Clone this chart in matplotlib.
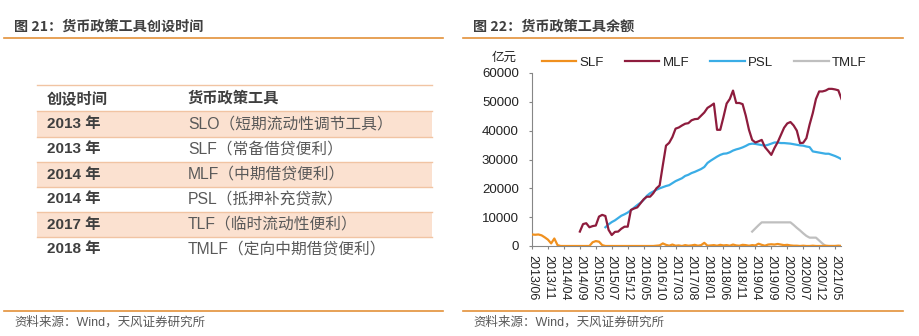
import matplotlib
matplotlib.use("Agg")
import matplotlib.pyplot as plt
from matplotlib.patches import Rectangle
from matplotlib.lines import Line2D
import numpy as np

plt.rcParams['font.family'] = ['Liberation Sans', 'Noto Sans CJK SC', 'DejaVu Sans']

# ---------------- data ----------------
table_years = ["2013 年", "2013 年", "2014 年", "2014 年", "2017 年", "2018 年"]
table_tools = ["SLO（短期流动性调节工具）", "SLF（常备借贷便利）", "MLF（中期借贷便利）",
               "PSL（抵押补充贷款）", "TLF（临时流动性便利）", "TMLF（定向中期借贷便利）"]
table_header = ["创设时间", "货币政策工具"]

start_year, start_month = 2013, 6
n_months = 98  # 2013/06 .. 2021/07

slf_start = 0
slf = [4000, 3900, 4000, 3700, 3000, 2200, 900, 2600, 300, 0,
       0, 0, 0, 0, 0, 0, 0, 0, 0, 1300,
       1700, 1500, 300, 0, 0, 0, 0, 0, 0, 0,
       0, 0, 0, 0, 0, 0, 0, 0, 0, 100,
       200, 900, 400, 100, 500, 100, 200, 0, 300, 100,
       200, 400, 100, 300, 1100, 100, 200, 300, 100, 400,
       200, 300, 100, 500, 200, 100, 400, 300, 100, 300,
       200, 800, 400, 100, 500, 600, 500, 700, 500, 300,
       400, 200, 100, 100, 0, 100, 0, 0, 100, 0,
       0, 0, 100, 0, 0, 0, 100, 0]

mlf_start = 15
mlf = [5000, 7600, 7900, 6500, 6900, 7100, 10200, 10800, 10400, 5600,
       3800, 4900, 5000, 6000, 6700, 6700, 12500, 13000, 13400, 14800,
       16200, 17100, 17100, 18300, 20000, 21000, 28000, 34800, 35800, 37800,
       40700, 41100, 41800, 42400, 42600, 43600, 44000, 44100, 45200, 46300,
       47900, 48600, 49400, 40300, 40300, 44700, 49400, 51000, 53900, 49600,
       49600, 49200, 45200, 40300, 36800, 35900, 36300, 36800, 34300, 33000,
       31600, 34000, 36000, 38500, 41000, 42500, 43000, 41800, 40000, 35700,
       35800, 37400, 42100, 46100, 51000, 53600, 53600, 53900, 54500, 54500,
       54300, 54000, 51000]

psl_start = 23
psl = [6500, 7500, 8300, 8900, 9700, 10500, 11000, 11600, 12400, 13300,
       14200, 15000, 16000, 17400, 18300, 18900, 19500, 20000, 20400, 20800,
       21100, 21800, 22500, 23000, 23500, 24300, 24700, 25300, 25700, 26200,
       26700, 27400, 28800, 29600, 30300, 31000, 31600, 32000, 32100, 32500,
       33100, 33500, 33800, 34200, 34700, 35300, 35500, 35400, 35200, 35000,
       34800, 35100, 35500, 35900, 35900, 35700, 35700, 35600, 35500, 35300,
       35100, 34900, 34800, 34500, 34300, 32800, 32600, 32400, 32200, 32000,
       32000, 31600, 31200, 30700, 30100]

tmlf_start = 69
tmlf = [5000, 6100, 7200, 8200, 8200, 8200, 8200, 8200, 8200, 8200,
        8200, 8200, 8200, 7300, 6300, 5400, 4400, 3500, 2900, 2900,
        2900, 1900, 900, 0, 0, 0, 0, 0, 0]

tick_step = 5
y_ticks = [0, 10000, 20000, 30000, 40000, 50000, 60000]

# ---------------- figure ----------------
W, H = 920, 336
fig = plt.figure(figsize=(W / 100, H / 100), dpi=100)

def fx(px):
    return px / W

def fy(py):
    return 1 - py / H

ORANGE = '#E3913A'
DARK = '#3F3F3F'
GRAY_TXT = '#595959'
CJK = ['Noto Sans CJK SC', 'DejaVu Sans']
MIX = ['Liberation Sans', 'Noto Sans CJK SC', 'DejaVu Sans']

# Titles and rules
fig.text(fx(14), fy(27), "图 21：货币政策工具创设时间", fontsize=10.2, fontweight='bold',
         color=DARK, family=CJK, va='center', ha='left')
fig.text(fx(473), fy(27), "图 22：货币政策工具余额", fontsize=10.2, fontweight='bold',
         color=DARK, family=CJK, va='center', ha='left')
for x0, x1 in [(4, 443), (463, 903)]:
    fig.add_artist(Line2D([fx(x0), fx(x1)], [fy(38), fy(38)], transform=fig.transFigure,
                          color=ORANGE, lw=1.2))
    fig.add_artist(Line2D([fx(x0), fx(x1)], [fy(310.5), fy(310.5)], transform=fig.transFigure,
                          color=ORANGE, lw=1.2))
fig.text(fx(14), fy(322), "资料来源：Wind，天风证券研究所", fontsize=9, color=GRAY_TXT,
         family=MIX, va='center', ha='left')
fig.text(fx(473), fy(322), "资料来源：Wind，天风证券研究所", fontsize=9, color=GRAY_TXT,
         family=MIX, va='center', ha='left')

# ---------------- table ----------------
tx0, tx1 = 37, 432
row_edges = [85, 111, 137, 162, 187, 212, 237, 262]
SHADE = '#FBE1D0'
LINE_C = '#F1C4A3'
for i in range(len(table_years)):
    top, bot = row_edges[i + 1], row_edges[i + 2]
    if i % 2 == 0:
        fig.add_artist(Rectangle((fx(tx0), fy(bot)), fx(tx1) - fx(tx0), fy(top) - fy(bot),
                                 transform=fig.transFigure, facecolor=SHADE, edgecolor='none'))
for e in row_edges[:-1]:
    fig.add_artist(Line2D([fx(tx0), fx(tx1)], [fy(e), fy(e)], transform=fig.transFigure,
                          color=LINE_C, lw=1.0))
col1_x, col2_x = 47, 188
hc = (row_edges[0] + row_edges[1]) / 2
fig.text(fx(col1_x), fy(hc), table_header[0], fontsize=11, fontweight='bold', color=DARK,
         family=CJK, va='center', ha='left')
fig.text(fx(col2_x), fy(hc), table_header[1], fontsize=11, fontweight='bold', color=DARK,
         family=CJK, va='center', ha='left')
for i, (yr, tool) in enumerate(zip(table_years, table_tools)):
    c = (row_edges[i + 1] + row_edges[i + 2]) / 2
    fig.text(fx(col1_x), fy(c), yr, fontsize=11, fontweight='bold', color=DARK,
             family=MIX, va='center', ha='left')
    fig.text(fx(col2_x), fy(c), tool, fontsize=11.3, color=GRAY_TXT,
             family=MIX, va='center', ha='left')

# ---------------- line chart ----------------
ax_l, ax_r, ax_b, ax_t = 532, 841.5, 246, 73
ax = fig.add_axes([fx(ax_l), fy(ax_b), fx(ax_r) - fx(ax_l), fy(ax_t) - fy(ax_b)])

def xs(start, vals):
    return np.arange(start, start + len(vals))

ax.plot(xs(tmlf_start, tmlf), tmlf, color='#BFBFBF', lw=1.6, label='TMLF', zorder=2)
ax.plot(xs(psl_start, psl), psl, color='#3AADE6', lw=1.6, label='PSL', zorder=3)
ax.plot(xs(mlf_start, mlf), mlf, color='#8E1C3D', lw=1.6, label='MLF', zorder=4)
ax.plot(xs(slf_start, slf), slf, color='#F0901E', lw=1.6, label='SLF', zorder=5)

ax.set_xlim(0, n_months - 1)
ax.set_ylim(0, 60000)
ax.set_yticks(y_ticks)
ax.set_yticklabels([str(v) for v in y_ticks])
tick_pos = list(range(0, n_months, tick_step))
labels = []
for p in tick_pos:
    y = start_year + (start_month - 1 + p) // 12
    m = (start_month - 1 + p) % 12 + 1
    labels.append(f"{y}/{m:02d}")
ax.set_xticks(tick_pos)
ax.set_xticklabels(labels, rotation=270, fontsize=9, color='#222222')
ax.tick_params(axis='y', labelsize=9.5, colors='#222222', length=2.5, width=0.8, pad=7)
ax.tick_params(axis='x', length=2.5, width=0.8, pad=4, colors='#222222')
for s in ['top', 'right']:
    ax.spines[s].set_visible(False)
for s in ['left', 'bottom']:
    ax.spines[s].set_color('#868686')
    ax.spines[s].set_linewidth(0.8)
ax.tick_params(color='#868686')
ax.patch.set_alpha(0)

handles, labs = ax.get_legend_handles_labels()
order = ['SLF', 'MLF', 'PSL', 'TMLF']
hmap = dict(zip(labs, handles))
leg = fig.legend([hmap[k] for k in order], order, loc='center left',
                 bbox_to_anchor=(fx(542), fy(63)), bbox_transform=fig.transFigure,
                 ncol=4, frameon=False, fontsize=9.5, handlelength=2.6,
                 handletextpad=0.25, columnspacing=1.6, borderpad=0, borderaxespad=0)
for t in leg.get_texts():
    t.set_color('#222222')

fig.text(fx(504), fy(57), "亿元", fontsize=9, color='#222222', family=CJK,
         ha='center', va='center')

fig.savefig("out.png", dpi=100)
